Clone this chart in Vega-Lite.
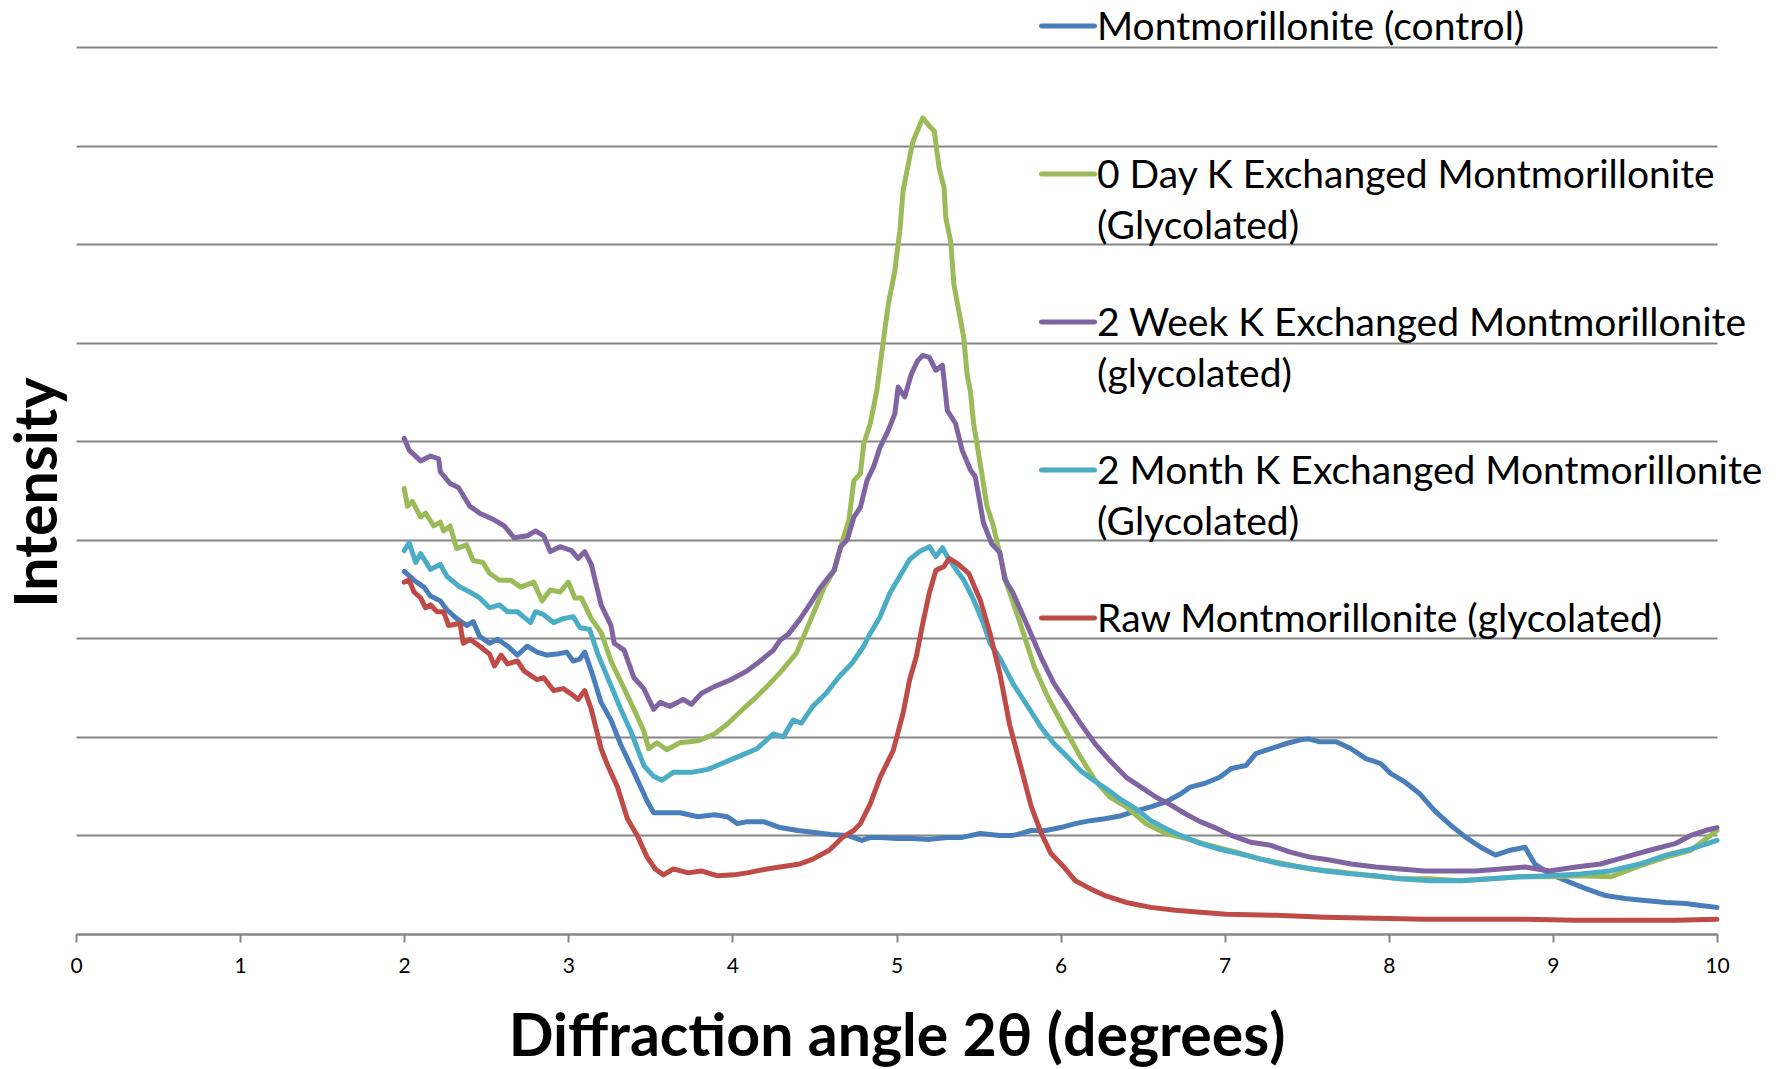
{
"$schema": "https://vega.github.io/schema/vega-lite/v6.json",
"width": 1641, "height": 887,
"autosize": {"type": "none"},
"padding": {"left": 76, "top": 47, "right": 67, "bottom": 135},
"background": "white",
"config": {"view": {"stroke": null}, "font": "Lato"},
"datasets": {
"names": [
{"k":"c","series":"Montmorillonite (control)"},
{"k":"d","series":"0 Day K Exchanged Montmorillonite (Glycolated)"},
{"k":"w","series":"2 Week K Exchanged Montmorillonite (glycolated)"},
{"k":"m","series":"2 Month K Exchanged Montmorillonite (Glycolated)"},
{"k":"r","series":"Raw Montmorillonite (glycolated)"}
],
"points": [
{"k":"c","x":2.0,"y":3.68},{"k":"c","x":2.06,"y":3.59},{"k":"c","x":2.12,"y":3.52},{"k":"c","x":2.16,"y":3.43},{"k":"c","x":2.22,"y":3.38},{"k":"c","x":2.26,"y":3.29},{"k":"c","x":2.32,"y":3.2},{"k":"c","x":2.38,"y":3.13},{"k":"c","x":2.42,"y":3.17},{"k":"c","x":2.46,"y":3.02},{"k":"c","x":2.52,"y":2.95},{"k":"c","x":2.57,"y":2.99},{"k":"c","x":2.63,"y":2.92},{"k":"c","x":2.69,"y":2.83},{"k":"c","x":2.75,"y":2.92},{"k":"c","x":2.81,"y":2.86},{"k":"c","x":2.87,"y":2.83},{"k":"c","x":2.93,"y":2.84},{"k":"c","x":2.99,"y":2.86},{"k":"c","x":3.03,"y":2.77},{"k":"c","x":3.07,"y":2.79},{"k":"c","x":3.1,"y":2.86},{"k":"c","x":3.14,"y":2.67},{"k":"c","x":3.2,"y":2.35},{"k":"c","x":3.26,"y":2.17},{"k":"c","x":3.32,"y":1.92},{"k":"c","x":3.4,"y":1.64},{"k":"c","x":3.48,"y":1.35},{"k":"c","x":3.52,"y":1.23},{"k":"c","x":3.6,"y":1.23},{"k":"c","x":3.68,"y":1.23},{"k":"c","x":3.79,"y":1.19},{"k":"c","x":3.89,"y":1.21},{"k":"c","x":3.97,"y":1.19},{"k":"c","x":4.03,"y":1.12},{"k":"c","x":4.09,"y":1.14},{"k":"c","x":4.19,"y":1.14},{"k":"c","x":4.29,"y":1.08},{"k":"c","x":4.4,"y":1.05},{"k":"c","x":4.5,"y":1.03},{"k":"c","x":4.6,"y":1.01},{"k":"c","x":4.7,"y":1.0},{"k":"c","x":4.79,"y":0.95},{"k":"c","x":4.84,"y":0.98},{"k":"c","x":4.9,"y":0.98},{"k":"c","x":5.0,"y":0.97},{"k":"c","x":5.1,"y":0.97},{"k":"c","x":5.2,"y":0.96},{"k":"c","x":5.31,"y":0.98},{"k":"c","x":5.4,"y":0.98},{"k":"c","x":5.51,"y":1.02},{"k":"c","x":5.63,"y":1.0},{"k":"c","x":5.71,"y":1.0},{"k":"c","x":5.76,"y":1.02},{"k":"c","x":5.82,"y":1.05},{"k":"c","x":5.91,"y":1.05},{"k":"c","x":6.0,"y":1.08},{"k":"c","x":6.09,"y":1.12},{"k":"c","x":6.18,"y":1.15},{"k":"c","x":6.27,"y":1.17},{"k":"c","x":6.37,"y":1.2},{"k":"c","x":6.46,"y":1.25},{"k":"c","x":6.55,"y":1.29},{"k":"c","x":6.64,"y":1.34},{"k":"c","x":6.73,"y":1.42},{"k":"c","x":6.79,"y":1.49},{"k":"c","x":6.88,"y":1.53},{"k":"c","x":6.97,"y":1.59},{"k":"c","x":7.04,"y":1.68},{"k":"c","x":7.13,"y":1.71},{"k":"c","x":7.19,"y":1.83},{"k":"c","x":7.28,"y":1.88},{"k":"c","x":7.37,"y":1.93},{"k":"c","x":7.46,"y":1.97},{"k":"c","x":7.51,"y":1.98},{"k":"c","x":7.58,"y":1.95},{"k":"c","x":7.68,"y":1.95},{"k":"c","x":7.77,"y":1.88},{"k":"c","x":7.86,"y":1.78},{"k":"c","x":7.95,"y":1.73},{"k":"c","x":8.01,"y":1.63},{"k":"c","x":8.1,"y":1.54},{"k":"c","x":8.19,"y":1.42},{"k":"c","x":8.28,"y":1.25},{"k":"c","x":8.38,"y":1.1},{"k":"c","x":8.47,"y":0.98},{"k":"c","x":8.56,"y":0.88},{"k":"c","x":8.65,"y":0.8},{"k":"c","x":8.74,"y":0.85},{"k":"c","x":8.83,"y":0.88},{"k":"c","x":8.89,"y":0.71},{"k":"c","x":8.98,"y":0.61},{"k":"c","x":9.08,"y":0.54},{"k":"c","x":9.2,"y":0.46},{"k":"c","x":9.32,"y":0.39},{"k":"c","x":9.44,"y":0.36},{"k":"c","x":9.56,"y":0.34},{"k":"c","x":9.69,"y":0.32},{"k":"c","x":9.81,"y":0.31},{"k":"c","x":9.9,"y":0.29},{"k":"c","x":10.0,"y":0.27},
{"k":"d","x":2.0,"y":4.52},{"k":"d","x":2.02,"y":4.34},{"k":"d","x":2.05,"y":4.39},{"k":"d","x":2.1,"y":4.23},{"k":"d","x":2.13,"y":4.27},{"k":"d","x":2.18,"y":4.14},{"k":"d","x":2.22,"y":4.18},{"k":"d","x":2.24,"y":4.09},{"k":"d","x":2.28,"y":4.14},{"k":"d","x":2.32,"y":3.91},{"k":"d","x":2.38,"y":3.95},{"k":"d","x":2.42,"y":3.79},{"k":"d","x":2.48,"y":3.77},{"k":"d","x":2.52,"y":3.66},{"k":"d","x":2.58,"y":3.59},{"k":"d","x":2.65,"y":3.59},{"k":"d","x":2.71,"y":3.52},{"k":"d","x":2.79,"y":3.57},{"k":"d","x":2.84,"y":3.38},{"k":"d","x":2.89,"y":3.49},{"k":"d","x":2.95,"y":3.47},{"k":"d","x":3.0,"y":3.57},{"k":"d","x":3.04,"y":3.41},{"k":"d","x":3.08,"y":3.41},{"k":"d","x":3.14,"y":3.2},{"k":"d","x":3.2,"y":3.06},{"k":"d","x":3.26,"y":2.77},{"k":"d","x":3.32,"y":2.56},{"k":"d","x":3.4,"y":2.28},{"k":"d","x":3.46,"y":2.06},{"k":"d","x":3.49,"y":1.88},{"k":"d","x":3.54,"y":1.94},{"k":"d","x":3.6,"y":1.87},{"k":"d","x":3.68,"y":1.94},{"k":"d","x":3.79,"y":1.96},{"k":"d","x":3.89,"y":2.03},{"k":"d","x":3.97,"y":2.13},{"k":"d","x":4.05,"y":2.26},{"k":"d","x":4.13,"y":2.38},{"k":"d","x":4.21,"y":2.51},{"k":"d","x":4.3,"y":2.67},{"k":"d","x":4.39,"y":2.85},{"k":"d","x":4.48,"y":3.2},{"k":"d","x":4.56,"y":3.52},{"k":"d","x":4.62,"y":3.69},{"k":"d","x":4.66,"y":3.93},{"k":"d","x":4.71,"y":4.2},{"k":"d","x":4.74,"y":4.6},{"k":"d","x":4.78,"y":4.67},{"k":"d","x":4.8,"y":4.97},{"k":"d","x":4.84,"y":5.18},{"k":"d","x":4.88,"y":5.51},{"k":"d","x":4.92,"y":6.02},{"k":"d","x":4.95,"y":6.39},{"k":"d","x":4.99,"y":6.73},{"k":"d","x":5.02,"y":7.13},{"k":"d","x":5.04,"y":7.54},{"k":"d","x":5.08,"y":7.88},{"k":"d","x":5.1,"y":8.04},{"k":"d","x":5.16,"y":8.28},{"k":"d","x":5.21,"y":8.18},{"k":"d","x":5.23,"y":8.15},{"k":"d","x":5.26,"y":7.77},{"k":"d","x":5.29,"y":7.57},{"k":"d","x":5.3,"y":7.27},{"k":"d","x":5.33,"y":7.03},{"k":"d","x":5.35,"y":6.59},{"k":"d","x":5.38,"y":6.32},{"k":"d","x":5.41,"y":6.05},{"k":"d","x":5.43,"y":5.68},{"k":"d","x":5.45,"y":5.51},{"k":"d","x":5.47,"y":5.18},{"k":"d","x":5.52,"y":4.67},{"k":"d","x":5.55,"y":4.35},{"k":"d","x":5.59,"y":4.14},{"k":"d","x":5.63,"y":3.85},{"k":"d","x":5.67,"y":3.56},{"k":"d","x":5.76,"y":3.12},{"k":"d","x":5.84,"y":2.71},{"k":"d","x":5.92,"y":2.41},{"k":"d","x":6.02,"y":2.1},{"k":"d","x":6.12,"y":1.8},{"k":"d","x":6.21,"y":1.56},{"k":"d","x":6.3,"y":1.39},{"k":"d","x":6.4,"y":1.29},{"k":"d","x":6.52,"y":1.12},{"k":"d","x":6.64,"y":1.02},{"k":"d","x":6.76,"y":0.97},{"k":"d","x":6.91,"y":0.9},{"k":"d","x":7.07,"y":0.83},{"k":"d","x":7.22,"y":0.76},{"k":"d","x":7.37,"y":0.71},{"k":"d","x":7.52,"y":0.66},{"k":"d","x":7.71,"y":0.63},{"k":"d","x":7.89,"y":0.59},{"k":"d","x":8.07,"y":0.56},{"k":"d","x":8.25,"y":0.56},{"k":"d","x":8.44,"y":0.54},{"k":"d","x":8.62,"y":0.56},{"k":"d","x":8.8,"y":0.58},{"k":"d","x":8.98,"y":0.58},{"k":"d","x":9.17,"y":0.59},{"k":"d","x":9.35,"y":0.58},{"k":"d","x":9.53,"y":0.69},{"k":"d","x":9.69,"y":0.78},{"k":"d","x":9.84,"y":0.85},{"k":"d","x":10.0,"y":1.05},
{"k":"w","x":2.0,"y":5.03},{"k":"w","x":2.03,"y":4.91},{"k":"w","x":2.1,"y":4.8},{"k":"w","x":2.16,"y":4.85},{"k":"w","x":2.21,"y":4.82},{"k":"w","x":2.22,"y":4.69},{"k":"w","x":2.28,"y":4.57},{"k":"w","x":2.33,"y":4.53},{"k":"w","x":2.4,"y":4.34},{"k":"w","x":2.46,"y":4.27},{"k":"w","x":2.55,"y":4.2},{"k":"w","x":2.61,"y":4.14},{"k":"w","x":2.67,"y":4.02},{"k":"w","x":2.75,"y":4.04},{"k":"w","x":2.8,"y":4.09},{"k":"w","x":2.85,"y":4.04},{"k":"w","x":2.89,"y":3.88},{"k":"w","x":2.95,"y":3.93},{"k":"w","x":3.02,"y":3.89},{"k":"w","x":3.06,"y":3.81},{"k":"w","x":3.1,"y":3.88},{"k":"w","x":3.14,"y":3.75},{"k":"w","x":3.2,"y":3.34},{"k":"w","x":3.26,"y":3.13},{"k":"w","x":3.28,"y":2.95},{"k":"w","x":3.34,"y":2.88},{"k":"w","x":3.4,"y":2.6},{"k":"w","x":3.46,"y":2.49},{"k":"w","x":3.52,"y":2.28},{"k":"w","x":3.56,"y":2.35},{"k":"w","x":3.62,"y":2.31},{"k":"w","x":3.7,"y":2.38},{"k":"w","x":3.75,"y":2.33},{"k":"w","x":3.81,"y":2.44},{"k":"w","x":3.89,"y":2.51},{"k":"w","x":3.99,"y":2.58},{"k":"w","x":4.09,"y":2.67},{"k":"w","x":4.17,"y":2.77},{"k":"w","x":4.25,"y":2.88},{"k":"w","x":4.29,"y":2.98},{"k":"w","x":4.34,"y":3.04},{"k":"w","x":4.41,"y":3.19},{"k":"w","x":4.49,"y":3.39},{"k":"w","x":4.53,"y":3.5},{"k":"w","x":4.59,"y":3.63},{"k":"w","x":4.62,"y":3.69},{"k":"w","x":4.66,"y":3.93},{"k":"w","x":4.7,"y":4.0},{"k":"w","x":4.74,"y":4.23},{"k":"w","x":4.78,"y":4.33},{"k":"w","x":4.82,"y":4.6},{"k":"w","x":4.86,"y":4.74},{"k":"w","x":4.9,"y":4.94},{"k":"w","x":4.95,"y":5.11},{"k":"w","x":4.99,"y":5.28},{"k":"w","x":5.01,"y":5.55},{"k":"w","x":5.05,"y":5.45},{"k":"w","x":5.09,"y":5.68},{"k":"w","x":5.13,"y":5.82},{"k":"w","x":5.16,"y":5.87},{"k":"w","x":5.2,"y":5.85},{"k":"w","x":5.24,"y":5.72},{"k":"w","x":5.28,"y":5.77},{"k":"w","x":5.31,"y":5.31},{"k":"w","x":5.36,"y":5.18},{"k":"w","x":5.4,"y":4.91},{"k":"w","x":5.45,"y":4.71},{"k":"w","x":5.48,"y":4.64},{"k":"w","x":5.53,"y":4.17},{"k":"w","x":5.58,"y":3.96},{"k":"w","x":5.63,"y":3.87},{"k":"w","x":5.66,"y":3.6},{"k":"w","x":5.71,"y":3.46},{"k":"w","x":5.8,"y":3.12},{"k":"w","x":5.88,"y":2.81},{"k":"w","x":5.96,"y":2.54},{"k":"w","x":6.04,"y":2.34},{"k":"w","x":6.12,"y":2.14},{"k":"w","x":6.21,"y":1.93},{"k":"w","x":6.3,"y":1.76},{"k":"w","x":6.4,"y":1.59},{"k":"w","x":6.49,"y":1.49},{"k":"w","x":6.58,"y":1.39},{"k":"w","x":6.67,"y":1.31},{"k":"w","x":6.76,"y":1.22},{"k":"w","x":6.85,"y":1.14},{"k":"w","x":6.94,"y":1.08},{"k":"w","x":7.04,"y":1.0},{"k":"w","x":7.16,"y":0.93},{"k":"w","x":7.28,"y":0.9},{"k":"w","x":7.4,"y":0.83},{"k":"w","x":7.52,"y":0.78},{"k":"w","x":7.64,"y":0.75},{"k":"w","x":7.77,"y":0.71},{"k":"w","x":7.92,"y":0.68},{"k":"w","x":8.07,"y":0.66},{"k":"w","x":8.22,"y":0.64},{"k":"w","x":8.38,"y":0.64},{"k":"w","x":8.53,"y":0.64},{"k":"w","x":8.68,"y":0.66},{"k":"w","x":8.83,"y":0.68},{"k":"w","x":8.98,"y":0.64},{"k":"w","x":9.14,"y":0.68},{"k":"w","x":9.29,"y":0.71},{"k":"w","x":9.44,"y":0.78},{"k":"w","x":9.59,"y":0.85},{"k":"w","x":9.75,"y":0.92},{"k":"w","x":9.84,"y":1.0},{"k":"w","x":9.93,"y":1.05},{"k":"w","x":10.0,"y":1.08},
{"k":"m","x":2.0,"y":3.89},{"k":"m","x":2.03,"y":3.97},{"k":"m","x":2.07,"y":3.77},{"k":"m","x":2.1,"y":3.86},{"k":"m","x":2.16,"y":3.7},{"k":"m","x":2.22,"y":3.75},{"k":"m","x":2.26,"y":3.63},{"k":"m","x":2.34,"y":3.52},{"k":"m","x":2.4,"y":3.47},{"k":"m","x":2.46,"y":3.41},{"k":"m","x":2.52,"y":3.31},{"k":"m","x":2.58,"y":3.34},{"k":"m","x":2.63,"y":3.27},{"k":"m","x":2.69,"y":3.27},{"k":"m","x":2.77,"y":3.16},{"k":"m","x":2.8,"y":3.27},{"k":"m","x":2.85,"y":3.24},{"k":"m","x":2.91,"y":3.16},{"k":"m","x":2.97,"y":3.2},{"k":"m","x":3.03,"y":3.22},{"k":"m","x":3.07,"y":3.11},{"k":"m","x":3.13,"y":3.09},{"k":"m","x":3.18,"y":2.84},{"k":"m","x":3.24,"y":2.6},{"k":"m","x":3.32,"y":2.28},{"k":"m","x":3.38,"y":2.06},{"k":"m","x":3.46,"y":1.71},{"k":"m","x":3.52,"y":1.6},{"k":"m","x":3.57,"y":1.56},{"k":"m","x":3.64,"y":1.64},{"k":"m","x":3.75,"y":1.64},{"k":"m","x":3.85,"y":1.67},{"k":"m","x":3.95,"y":1.74},{"k":"m","x":4.05,"y":1.81},{"k":"m","x":4.15,"y":1.88},{"k":"m","x":4.25,"y":2.03},{"k":"m","x":4.31,"y":2.0},{"k":"m","x":4.37,"y":2.17},{"k":"m","x":4.42,"y":2.14},{"k":"m","x":4.49,"y":2.31},{"k":"m","x":4.57,"y":2.44},{"k":"m","x":4.65,"y":2.61},{"k":"m","x":4.73,"y":2.75},{"k":"m","x":4.8,"y":2.92},{"k":"m","x":4.84,"y":3.05},{"k":"m","x":4.9,"y":3.22},{"k":"m","x":4.96,"y":3.46},{"k":"m","x":5.02,"y":3.63},{"k":"m","x":5.08,"y":3.8},{"k":"m","x":5.14,"y":3.88},{"k":"m","x":5.2,"y":3.93},{"k":"m","x":5.24,"y":3.83},{"k":"m","x":5.28,"y":3.92},{"k":"m","x":5.31,"y":3.83},{"k":"m","x":5.35,"y":3.73},{"k":"m","x":5.41,"y":3.59},{"k":"m","x":5.47,"y":3.39},{"k":"m","x":5.53,"y":3.15},{"k":"m","x":5.57,"y":2.95},{"k":"m","x":5.63,"y":2.8},{"k":"m","x":5.71,"y":2.54},{"k":"m","x":5.8,"y":2.31},{"k":"m","x":5.88,"y":2.1},{"k":"m","x":5.96,"y":1.93},{"k":"m","x":6.04,"y":1.8},{"k":"m","x":6.12,"y":1.66},{"k":"m","x":6.2,"y":1.56},{"k":"m","x":6.29,"y":1.46},{"k":"m","x":6.37,"y":1.36},{"k":"m","x":6.46,"y":1.27},{"k":"m","x":6.55,"y":1.15},{"k":"m","x":6.64,"y":1.07},{"k":"m","x":6.73,"y":1.0},{"k":"m","x":6.85,"y":0.92},{"k":"m","x":6.97,"y":0.86},{"k":"m","x":7.1,"y":0.81},{"k":"m","x":7.22,"y":0.76},{"k":"m","x":7.34,"y":0.71},{"k":"m","x":7.46,"y":0.68},{"k":"m","x":7.61,"y":0.64},{"k":"m","x":7.77,"y":0.61},{"k":"m","x":7.92,"y":0.59},{"k":"m","x":8.07,"y":0.56},{"k":"m","x":8.25,"y":0.54},{"k":"m","x":8.44,"y":0.54},{"k":"m","x":8.62,"y":0.56},{"k":"m","x":8.8,"y":0.58},{"k":"m","x":8.98,"y":0.59},{"k":"m","x":9.17,"y":0.61},{"k":"m","x":9.35,"y":0.64},{"k":"m","x":9.53,"y":0.71},{"k":"m","x":9.69,"y":0.8},{"k":"m","x":9.84,"y":0.86},{"k":"m","x":10.0,"y":0.95},
{"k":"r","x":2.0,"y":3.57},{"k":"r","x":2.03,"y":3.59},{"k":"r","x":2.06,"y":3.47},{"k":"r","x":2.1,"y":3.41},{"k":"r","x":2.13,"y":3.31},{"k":"r","x":2.16,"y":3.34},{"k":"r","x":2.2,"y":3.27},{"k":"r","x":2.24,"y":3.27},{"k":"r","x":2.27,"y":3.13},{"k":"r","x":2.34,"y":3.15},{"k":"r","x":2.36,"y":2.95},{"k":"r","x":2.4,"y":2.99},{"k":"r","x":2.46,"y":2.92},{"k":"r","x":2.52,"y":2.84},{"k":"r","x":2.55,"y":2.72},{"k":"r","x":2.59,"y":2.83},{"k":"r","x":2.63,"y":2.74},{"k":"r","x":2.69,"y":2.77},{"k":"r","x":2.73,"y":2.67},{"k":"r","x":2.81,"y":2.58},{"k":"r","x":2.85,"y":2.6},{"k":"r","x":2.91,"y":2.47},{"k":"r","x":2.97,"y":2.49},{"k":"r","x":3.03,"y":2.42},{"k":"r","x":3.06,"y":2.38},{"k":"r","x":3.1,"y":2.47},{"k":"r","x":3.14,"y":2.28},{"k":"r","x":3.2,"y":1.88},{"k":"r","x":3.24,"y":1.71},{"k":"r","x":3.3,"y":1.49},{"k":"r","x":3.36,"y":1.17},{"k":"r","x":3.42,"y":1.0},{"k":"r","x":3.48,"y":0.78},{"k":"r","x":3.53,"y":0.66},{"k":"r","x":3.58,"y":0.6},{"k":"r","x":3.64,"y":0.66},{"k":"r","x":3.73,"y":0.62},{"k":"r","x":3.81,"y":0.64},{"k":"r","x":3.91,"y":0.59},{"k":"r","x":4.01,"y":0.6},{"k":"r","x":4.09,"y":0.62},{"k":"r","x":4.21,"y":0.66},{"k":"r","x":4.29,"y":0.68},{"k":"r","x":4.41,"y":0.71},{"k":"r","x":4.49,"y":0.76},{"k":"r","x":4.59,"y":0.85},{"k":"r","x":4.67,"y":0.98},{"k":"r","x":4.74,"y":1.05},{"k":"r","x":4.78,"y":1.12},{"k":"r","x":4.84,"y":1.32},{"k":"r","x":4.9,"y":1.59},{"k":"r","x":4.98,"y":1.86},{"k":"r","x":5.04,"y":2.24},{"k":"r","x":5.08,"y":2.58},{"k":"r","x":5.12,"y":2.81},{"k":"r","x":5.16,"y":3.15},{"k":"r","x":5.2,"y":3.46},{"k":"r","x":5.24,"y":3.69},{"k":"r","x":5.29,"y":3.73},{"k":"r","x":5.32,"y":3.81},{"k":"r","x":5.37,"y":3.76},{"k":"r","x":5.44,"y":3.66},{"k":"r","x":5.51,"y":3.39},{"k":"r","x":5.57,"y":3.05},{"k":"r","x":5.63,"y":2.64},{"k":"r","x":5.69,"y":2.12},{"k":"r","x":5.76,"y":1.68},{"k":"r","x":5.82,"y":1.3},{"k":"r","x":5.88,"y":1.03},{"k":"r","x":5.94,"y":0.82},{"k":"r","x":6.02,"y":0.68},{"k":"r","x":6.09,"y":0.54},{"k":"r","x":6.18,"y":0.46},{"k":"r","x":6.27,"y":0.39},{"k":"r","x":6.4,"y":0.32},{"k":"r","x":6.55,"y":0.27},{"k":"r","x":6.7,"y":0.24},{"k":"r","x":6.85,"y":0.22},{"k":"r","x":7.01,"y":0.2},{"k":"r","x":7.31,"y":0.19},{"k":"r","x":7.61,"y":0.17},{"k":"r","x":7.92,"y":0.16},{"k":"r","x":8.22,"y":0.15},{"k":"r","x":8.53,"y":0.15},{"k":"r","x":8.83,"y":0.15},{"k":"r","x":9.14,"y":0.14},{"k":"r","x":9.44,"y":0.14},{"k":"r","x":9.75,"y":0.14},{"k":"r","x":10.0,"y":0.15}
]
},
"data": {"name": "points"},
"transform": [{"lookup": "k", "from": {"data": {"name": "names"}, "key": "k", "fields": ["series"]}}],
"mark": {"type": "line", "strokeWidth": 5, "strokeJoin": "round", "strokeCap": "round"},
"encoding": {
"x": {"field": "x", "type": "quantitative", "scale": {"domain": [0, 10], "nice": false},
 "axis": {"values": [0,1,2,3,4,5,6,7,8,9,10], "format": "d", "grid": false, "domainColor": "#868686", "domainWidth": 2, "tickColor": "#868686", "tickWidth": 2, "tickSize": 8, "labelFont": "Lato", "labelFontSize": 21, "labelColor": "black", "labelPadding": 13, "labelFlush": false, "labelOverlap": false, "title": "Diffraction angle 2θ (degrees)", "titleFont": "Lato", "titleFontSize": 59, "titleFontWeight": "bold", "titleColor": "black", "titleBaseline": "alphabetic", "titleY": 121}},
"y": {"field": "y", "type": "quantitative", "scale": {"domain": [0, 9], "nice": false},
 "axis": {"values": [0,1,2,3,4,5,6,7,8,9], "grid": true, "gridColor": "#868686", "gridWidth": 2, "domain": false, "ticks": false, "labels": false, "title": "Intensity", "titleFont": "Lato", "titleFontSize": 59, "titleFontWeight": "bold", "titleColor": "black", "titleBaseline": "alphabetic", "titleAngle": 270, "titleAlign": "center", "titleX": -20, "titleY": 445}},
"color": {"field": "series", "type": "nominal",
 "scale": {"domain": ["Montmorillonite (control)", "0 Day K Exchanged Montmorillonite (Glycolated)", "2 Week K Exchanged Montmorillonite (glycolated)", "2 Month K Exchanged Montmorillonite (Glycolated)", "Raw Montmorillonite (glycolated)"], "range": ["#4A7EBB", "#9BBB59", "#8064A2", "#4BACC6", "#BE4B48"]},
 "legend": {"orient": "none", "legendX": 963, "legendY": -50, "title": null, "padding": 0, "symbolType": "stroke", "symbolSize": 2809, "symbolStrokeWidth": 5, "labelFont": "Lato", "labelFontSize": 39, "labelColor": "black", "labelLimit": 0, "labelOffset": 0, "labelBaseline": "alphabetic", "rowPadding": 46, "gridAlign": "all",
  "labelExpr": "indexof(datum.label, 'Exchanged') >= 0 ? [substring(datum.label, 0, indexof(datum.label, ' (')), substring(datum.label, indexof(datum.label, ' (') + 1)] : datum.label",
  "encode": {"labels": {"update": {"lineHeight": {"value": 51}, "dy": {"value": 14}}}, "symbols": {"update": {"strokeCap": {"value": "round"}}}}}}
}
}
